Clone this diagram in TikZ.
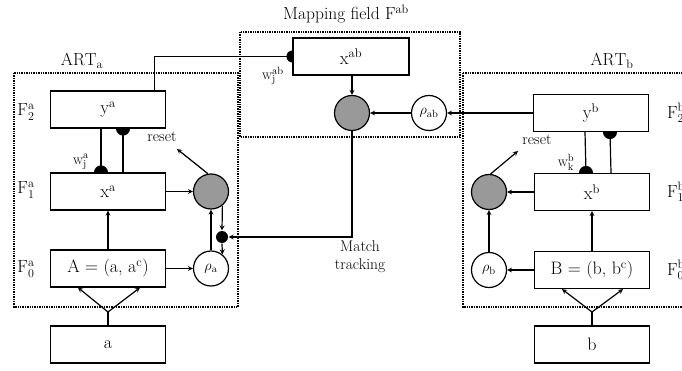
\documentclass[tikz,border=0pt]{standalone}
\usepackage{fontspec}
\usetikzlibrary{arrows.meta}
\pgfdeclarelayer{back}
\pgfsetlayers{back,main}

\begin{document}
\begin{tikzpicture}[x=1pt, y=-1pt, >=stealth, line width=1.2pt,
    fieldbox/.style={draw, fill=white, minimum width=115pt, minimum height=37pt,
      inner sep=0pt, font=\fontsize{18}{20}\selectfont},
    orient/.style={circle, draw, fill=black!40, minimum size=35pt, inner sep=0pt},
    vigil/.style={circle, draw, fill=white, minimum size=35pt, inner sep=0pt,
      font=\fontsize{15}{17}\selectfont},
    junct/.style={circle, fill=black, minimum size=12pt, inner sep=0pt},
    flabel/.style={font=\fontsize{17.5}{20}\selectfont},
    note/.style={font=\fontsize{15.5}{18}\selectfont},
    wlabel/.style={font=\fontsize{15}{17}\selectfont, inner sep=1pt},
    dotframe/.style={densely dotted, line width=1.4pt}]
  \useasboundingbox (0,0) rectangle (682,371);

  % Dotted frames of the three modules
  \draw[dotframe] (14,73) rectangle (238,307);
  \draw[dotframe] (240,32) rectangle (460,137);
  \draw[dotframe] (463,73) rectangle (700,307);

  % Titles
  \node[flabel] (titab) at (346,14) {Mapping field F\textsuperscript{ab}};
  \node[flabel] (tita) at (82,61) {$\mathrm{ART}_{\mathrm{a}}$};
  \node[flabel] (titb) at (612,61) {$\mathrm{ART}_{\mathrm{b}}$};

  % ART_a fields
  \node[fieldbox] (ya) at (108,109.5) {y\textsuperscript{a}};
  \node[fieldbox] (xa) at (108,191.5) {x\textsuperscript{a}};
  \node[fieldbox] (A) at (108,268.5) {A = (a, a\textsuperscript{c})};
  \node[fieldbox] (a) at (108,344.5) {a};
  \node[orient] (ga) at (211,191.5) {};
  \node[vigil] (rhoa) at (211,268.5) {$\rho_{\mathrm{a}}$};
  \node[junct] (dot) at (222,237) {};
  \coordinate (rsta) at (177,149);
  \coordinate (spla) at (108,312);

  % Map field
  \node[fieldbox, minimum width=116pt] (xab) at (351,56.5) {x\textsuperscript{ab}};
  \node[orient] (gab) at (352,113) {};
  \node[vigil] (rhoab) at (429,113) {$\rho_{\mathrm{ab}}$};

  % ART_b fields
  \node[fieldbox] (yb) at (591,113) {y\textsuperscript{b}};
  \node[fieldbox] (xb) at (592,192) {x\textsuperscript{b}};
  \node[fieldbox] (B) at (592,270) {B = (b, b\textsuperscript{c})};
  \node[fieldbox] (b) at (592,344.5) {b};
  \node[orient] (gb) at (489,192) {};
  \node[vigil] (rhob) at (489,270) {$\rho_{\mathrm{b}}$};
  \coordinate (rstb) at (518,151);
  \coordinate (splb) at (592,312);

  % Layer labels
  \node[flabel] (f2a) at (26,112) {$\mathrm{F}_2^{\mathrm{a}}$};
  \node[flabel] (f1a) at (26,190) {$\mathrm{F}_1^{\mathrm{a}}$};
  \node[flabel] (f0a) at (26,269) {$\mathrm{F}_0^{\mathrm{a}}$};
  \node[flabel] (f2b) at (676,113) {$\mathrm{F}_2^{\mathrm{b}}$};
  \node[flabel] (f1b) at (676,192) {$\mathrm{F}_1^{\mathrm{b}}$};
  \node[flabel] (f0b) at (676,270) {$\mathrm{F}_0^{\mathrm{b}}$};

  % Weights, reset and match tracking texts
  \node[wlabel] (wa) at (81,162) {$\mathrm{w}_{\mathrm{j}}^{\mathrm{a}}$};
  \node[wlabel] (wab) at (273,76) {$\mathrm{w}_{\mathrm{j}}^{\mathrm{ab}}$};
  \node[wlabel] (wb) at (566,162) {$\mathrm{w}_{\mathrm{k}}^{\mathrm{b}}$};
  \node[note] (reseta) at (162,137) {reset};
  \node[note] (resetb) at (537,140) {reset};
  \node[note, align=center] (mt) at (360,257) {Match\\tracking};

  \begin{pgfonlayer}{back}
  \begin{scope}[line width=1.2pt]
    % ART_a connections
    \draw ([xshift=-7pt]ya.south) -- ([xshift=-7pt]xa.north);
    \fill ([xshift=-7pt]xa.north) circle (7);
    \draw ([xshift=15pt]ya.south) -- ([xshift=15pt]xa.north);
    \fill ([xshift=15pt]ya.south) circle (7);
    \draw[->] (A.north) -- (xa.south);
    \draw (a.north) -- (spla);
    \draw[->] (spla) -- ([xshift=-30pt]A.south);
    \draw[->] (spla) -- ([xshift=32pt]A.south);
    \draw[->] (xa.east) -- (ga.west);
    \draw[->] (A.east) -- (rhoa.west);
    \draw[->] (rhoa.north) -- (ga.south);
    \draw[->] (ga.-51) -- (dot.north);
    \draw[->] (dot.south) -- (rhoa.51);
    \draw[->] (ga.100) -- (rsta);

    % Map field connections
    \draw ([xshift=-12pt]ya.north east) |- (xab.west);
    \fill (xab.west) circle (6);
    \draw[->] (gab |- xab.south) -- (gab.north);
    \draw[->] (rhoab.west) -- (gab.east);
    \draw[->] (yb.west) -- (rhoab.east);
    \draw[->] (gab.south) |- (dot.east);

    % ART_b connections
    \draw ([xshift=-6pt]yb.south) -- ([xshift=-6pt]xb.north);
    \fill ([xshift=-6pt]xb.north) circle (7);
    \draw ([xshift=19pt]yb.south) -- ([xshift=19pt]xb.north);
    \fill ([xshift=19pt]yb.south) circle (7);
    \draw[->] (B.north) -- (xb.south);
    \draw (b.north) -- (splb);
    \draw[->] (splb) -- ([xshift=-30pt]B.south);
    \draw[->] (splb) -- ([xshift=31pt]B.south);
    \draw[->] (xb.west) -- (gb.east);
    \draw[->] (B.west) -- (rhob.east);
    \draw[->] (rhob.north) -- (gb.south);
    \draw[->] (gb.85) -- (rstb);
  \end{scope}
  \end{pgfonlayer}
\end{tikzpicture}
\end{document}
